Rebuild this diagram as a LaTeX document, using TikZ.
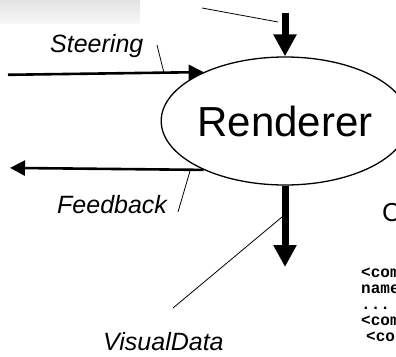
\documentclass[tikz,border=0pt]{standalone}
\usepackage{fontspec}
\setmainfont{Liberation Sans}
\newfontfamily\codefont{Liberation Mono}
\usetikzlibrary{arrows.meta,shapes.geometric}
\begin{document}
\begin{tikzpicture}[x=1pt,y=1pt,
  flowlabel/.style={font=\fontsize{25pt}{30pt}\selectfont\itshape, inner sep=0pt, anchor=base west},
  leader/.style={line width=0.8pt},
  flow/.style={line width=2.6pt, -{Triangle[width=15pt,length=15pt]}},
  bigflow/.style={line width=7pt, -{Triangle[width=22pt,length=22pt]}},
  codeline/.style={font=\codefont\bfseries\fontsize{16pt}{16pt}\selectfont, inner sep=0pt, anchor=base west}]
\useasboundingbox (0,0) rectangle (396,-356);

% faint header strip
\shade[top color=black!11, bottom color=black!3] (0,0) rectangle (140,-23);

% the renderer process
\node[ellipse, draw, line width=1.3pt, minimum width=220pt, minimum height=128pt,
      inner sep=0pt, font=\fontsize{42pt}{48pt}\selectfont] (renderer) at (285,-121) {Renderer};

% free ends of the flows
\coordinate (topIn) at (285,-13);
\coordinate (steerIn) at (8,-74.8);
\coordinate (feedOut) at (10,-167.9);
\coordinate (visOut) at (285,-267);

% flows
\draw[bigflow] (topIn) -- (renderer.north);
\draw[flow] (steerIn) -- (renderer.149);
\draw[flow] (renderer.211.9) -- (feedOut);
\draw[bigflow] (renderer.south) -- (visOut);

% flow labels
\node[flowlabel] (steering) at (50,-52) {Steering};
\node[flowlabel] (feedback) at (57,-213) {Feedback};
\node[flowlabel] (visual) at (103,-350) {VisualData};

% leader lines
\coordinate (topTail) at (202,-8);   \coordinate (topFoot) at (278,-22);
\coordinate (steerTail) at (157,-45); \coordinate (steerFoot) at (164,-73);
\coordinate (feedTail) at (178,-212); \coordinate (feedFoot) at (190,-171);
\coordinate (visTail) at (173,-308);  \coordinate (visFoot) at (282,-217);
\draw[leader] (topTail) -- (topFoot);
\draw[leader] (steerTail) -- (steerFoot);
\draw[leader] (feedTail) -- (feedFoot);
\draw[leader] (visTail) -- (visFoot);

% heading and listing running off the right edge
\node[font=\fontsize{26pt}{30pt}\selectfont, inner sep=0pt, anchor=base west] (heading) at (382,-221) {C};
\node[codeline] (code1) at (361,-277) {<com};
\node[codeline] (code2) at (361,-293) {name};
\node[codeline] (code3) at (361,-309) {...};
\node[codeline] (code4) at (361,-325) {<com};
\node[codeline] (code5) at (366,-341) {<co};
\end{tikzpicture}
\end{document}
